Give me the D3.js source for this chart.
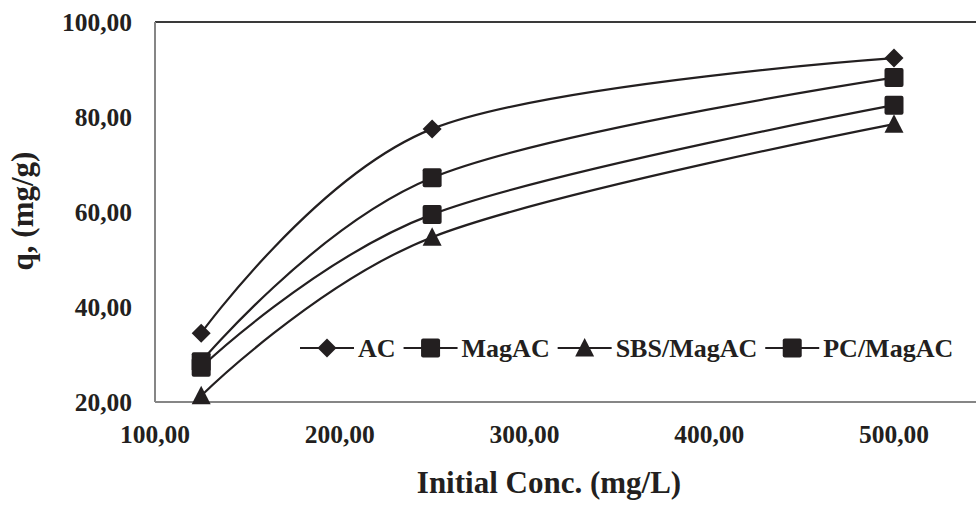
<!DOCTYPE html>
<html>
<head>
<meta charset="utf-8">
<script src="https://cdn.jsdelivr.net/npm/d3@7"></script>
<style>
  body { margin: 0; background: #fff; }
  svg text { font-family: "Liberation Serif", "Times New Roman", serif; font-weight: bold; fill: #231f20; }
</style>
</head>
<body>
<svg id="chart" width="976" height="506"></svg>
<script>
// Data
var concentrations = [125, 250, 500];
var acValues = [34.5, 77.5, 92.4];
var magacValues = [28.5, 67.2, 88.3];
var sbsValues = [21.3, 54.7, 78.5];
var pcValues = [27.3, 59.5, 82.5];
var seriesNames = ["AC", "MagAC", "SBS/MagAC", "PC/MagAC"];
var seriesMarkers = ["diamond", "square", "triangle", "square"];
var xTickValues = [100, 200, 300, 400, 500];
var yTickValues = [20, 40, 60, 80, 100];

var series = [acValues, magacValues, sbsValues, pcValues].map(function (vals, i) {
  return {
    name: seriesNames[i],
    marker: seriesMarkers[i],
    points: concentrations.map(function (c, j) { return { x: c, y: vals[j] }; })
  };
});

var svg = d3.select("svg#chart"),
  width = +svg.attr("width"),
  height = +svg.attr("height");

var margin = { left: 155, top: 22, bottom: 402 };
var ink = "#231f20";

// the plot runs on past the right edge of the picture (axis max 600)
var x = d3.scaleLinear().domain([100, 600]).range([margin.left, margin.left + 500 * 1.8475]);
var y = d3.scaleLinear().domain([20, 100]).range([margin.bottom, margin.top]);

var fmt = d3.formatLocale({ decimal: ",", thousands: ".", grouping: [3], currency: ["", ""] }).format(".2f");

// plot frame
svg.append("line")
  .attr("x1", margin.left).attr("x2", width)
  .attr("y1", margin.top).attr("y2", margin.top)
  .attr("stroke", "#3a3a3a").attr("stroke-width", 2);
svg.append("line")
  .attr("x1", margin.left).attr("x2", margin.left)
  .attr("y1", margin.top).attr("y2", margin.bottom)
  .attr("stroke", "#868686").attr("stroke-width", 2);
svg.append("line")
  .attr("x1", margin.left).attr("x2", width)
  .attr("y1", margin.bottom).attr("y2", margin.bottom)
  .attr("stroke", "#868686").attr("stroke-width", 2);

// tick labels
svg.append("g")
  .selectAll("text")
  .data(yTickValues)
  .join("text")
  .attr("x", 132)
  .attr("y", d => y(d))
  .attr("dy", "0.35em")
  .attr("text-anchor", "end")
  .style("font-size", "25.5px")
  .text(d => fmt(d));

svg.append("g")
  .selectAll("text")
  .data(xTickValues)
  .join("text")
  .attr("x", d => x(d))
  .attr("y", 443)
  .attr("text-anchor", "middle")
  .style("font-size", "25.5px")
  .text(d => fmt(d));

// axis titles
svg.append("text")
  .attr("x", 549)
  .attr("y", 493)
  .attr("text-anchor", "middle")
  .style("font-size", "31px")
  .text("Initial Conc. (mg/L)");

svg.append("text")
  .attr("transform", "translate(33,211) rotate(-90)")
  .attr("text-anchor", "middle")
  .style("font-size", "31px")
  .text("q, (mg/g)");

// marker shapes, drawn around (0,0)
function markerPath(kind) {
  var p = d3.path();
  if (kind === "diamond") {
    p.moveTo(0, -9.5); p.lineTo(9.5, 0); p.lineTo(0, 9.5); p.lineTo(-9.5, 0); p.closePath();
  } else if (kind === "triangle") {
    p.moveTo(0, -10); p.lineTo(9.5, 8.5); p.lineTo(-9.5, 8.5); p.closePath();
  }
  return p.toString();
}

function drawMarker(g, kind) {
  if (kind === "square") {
    g.append("rect")
      .attr("x", -9.5).attr("y", -9.5)
      .attr("width", 19).attr("height", 19)
      .attr("rx", 2)
      .attr("fill", ink);
  } else {
    g.append("path").attr("d", markerPath(kind)).attr("fill", ink);
  }
}

var line = d3.line()
  .x(d => x(d.x))
  .y(d => y(d.y))
  .curve(d3.curveCardinal.tension(0));

var lines = svg.append("g");
series.forEach(function (s) {
  lines.append("path")
    .datum(s.points)
    .attr("d", line)
    .attr("fill", "none")
    .attr("stroke", ink)
    .attr("stroke-width", 2.2);
});

var markers = svg.append("g");
series.forEach(function (s) {
  s.points.forEach(function (pt) {
    var g = markers.append("g").attr("transform", "translate(" + x(pt.x) + "," + y(pt.y) + ")");
    drawMarker(g, s.marker);
  });
});

// legend
var legend = svg.append("g").attr("class", "legendEntry");
var lx = 300, ly = 348;
series.forEach(function (s) {
  var entry = legend.append("g").attr("transform", "translate(" + lx + "," + ly + ")");
  entry.append("line")
    .attr("x1", 0).attr("x2", 54)
    .attr("y1", 0).attr("y2", 0)
    .attr("stroke", ink).attr("stroke-width", 2.2);
  var m = entry.append("g").attr("transform", "translate(27,0)");
  drawMarker(m, s.marker);
  var t = entry.append("text")
    .attr("x", 58)
    .attr("y", 9)
    .style("font-size", "26px")
    .text(s.name);
  lx += 58 + t.node().getComputedTextLength() + 8;
});
</script>
</body>
</html>
